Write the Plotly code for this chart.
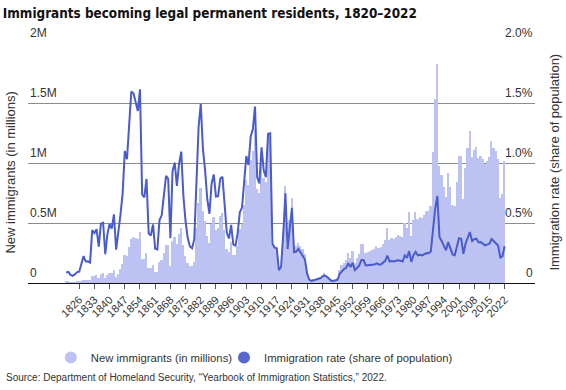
import plotly.graph_objects as go

years = list(range(1820, 2023))

# New immigrants (thousands)
immigrants_k = [
    8.4, 9.1, 6.9, 6.4, 7.9, 10.2, 10.8, 18.9, 27.4, 22.5,
    23.3, 22.6, 60.5, 58.6, 65.4, 45.4, 76.2, 79.3, 38.9, 68.1,
    84.1, 80.3, 104.6, 52.5, 78.6, 114.4, 154.4, 235.0, 226.5, 297.0,
    370.0, 379.5, 371.6, 368.6, 427.8, 200.9, 200.4, 251.3, 123.1, 121.3,
    153.6, 91.9, 92.0, 176.3, 193.4, 248.1, 318.6, 315.7, 138.8, 352.8,
    387.2, 321.4, 404.8, 459.8, 313.3, 227.5, 170.0, 141.9, 138.5, 177.8,
    457.3, 669.4, 789.0, 603.3, 518.6, 395.3, 334.2, 490.1, 546.9, 444.4,
    455.3, 560.3, 579.7, 439.7, 285.6, 258.5, 343.3, 230.8, 229.3, 311.7,
    448.6, 487.9, 648.7, 857.0, 812.9, 1026.5, 1100.7, 1285.3, 782.9, 751.8,
    1041.6, 878.6, 838.2, 1197.9, 1218.5, 326.7, 298.8, 295.4, 110.6, 141.1,
    430.0, 805.2, 309.6, 522.9, 706.9, 294.3, 304.5, 335.2, 307.3, 279.7,
    241.7, 97.1, 35.6, 23.1, 29.5, 35.0, 36.3, 50.2, 67.9, 83.0,
    70.8, 51.8, 28.8, 23.7, 28.6, 38.1, 108.7, 147.3, 170.6, 188.3,
    249.2, 205.7, 265.5, 170.4, 208.2, 237.8, 321.6, 326.9, 253.3, 260.7,
    265.4, 271.3, 283.8, 306.3, 292.2, 296.7, 323.0, 362.0, 454.4, 358.6,
    373.3, 370.5, 384.7, 398.5, 393.9, 385.4, 499.1, 458.8, 589.8, 394.2,
    524.3, 595.0, 533.6, 550.1, 541.8, 568.1, 600.0, 599.9, 641.3, 1090.2,
    1535.9, 1826.6, 973.4, 903.9, 804.0, 720.2, 915.6, 797.8, 653.2, 644.8,
    841.0, 1058.9, 1059.4, 703.5, 957.9, 1122.3, 1266.1, 1052.4, 1107.1, 1130.8,
    1042.6, 1062.0, 1031.6, 990.6, 1016.5, 1051.0, 1183.5, 1127.2, 1096.6, 1031.8,
    707.4, 740.0, 1018.3,
]

# Immigration rate (% of population)
rate_pct = [
    0.087, 0.092, 0.067, 0.060, 0.072, 0.091, 0.094, 0.159, 0.224, 0.179,
    0.181, 0.170, 0.441, 0.415, 0.449, 0.303, 0.495, 0.502, 0.240, 0.409,
    0.492, 0.454, 0.572, 0.278, 0.403, 0.568, 0.745, 1.101, 1.031, 1.315,
    1.595, 1.581, 1.498, 1.434, 1.614, 0.736, 0.713, 0.867, 0.413, 0.396,
    0.489, 0.285, 0.280, 0.525, 0.564, 0.709, 0.892, 0.867, 0.374, 0.933,
    1.003, 0.810, 0.990, 1.095, 0.725, 0.512, 0.374, 0.304, 0.289, 0.363,
    0.911, 1.300, 1.494, 1.117, 0.938, 0.698, 0.577, 0.829, 0.905, 0.720,
    0.723, 0.871, 0.884, 0.656, 0.418, 0.371, 0.484, 0.320, 0.312, 0.416,
    0.589, 0.627, 0.817, 1.058, 0.984, 1.219, 1.283, 1.471, 0.880, 0.830,
    1.130, 0.939, 0.882, 1.243, 1.247, 0.330, 0.297, 0.290, 0.107, 0.135,
    0.406, 0.748, 0.283, 0.470, 0.626, 0.257, 0.262, 0.284, 0.257, 0.230,
    0.196, 0.078, 0.028, 0.018, 0.023, 0.027, 0.028, 0.039, 0.052, 0.063,
    0.054, 0.039, 0.021, 0.017, 0.020, 0.027, 0.076, 0.101, 0.116, 0.126,
    0.165, 0.133, 0.169, 0.107, 0.128, 0.144, 0.191, 0.191, 0.146, 0.148,
    0.148, 0.149, 0.154, 0.164, 0.155, 0.155, 0.167, 0.185, 0.229, 0.179,
    0.184, 0.180, 0.185, 0.190, 0.185, 0.179, 0.230, 0.209, 0.266, 0.176,
    0.231, 0.260, 0.231, 0.236, 0.230, 0.239, 0.250, 0.248, 0.263, 0.442,
    0.618, 0.725, 0.381, 0.350, 0.307, 0.272, 0.341, 0.294, 0.238, 0.232,
    0.299, 0.373, 0.369, 0.243, 0.328, 0.380, 0.425, 0.350, 0.365, 0.370,
    0.338, 0.341, 0.329, 0.314, 0.320, 0.328, 0.367, 0.347, 0.335, 0.313,
    0.213, 0.223, 0.306,
]

x_tick_years = list(range(1826, 2023, 7))
left_tick_vals = [0, 0.5, 1.0, 1.5, 2.0]
left_tick_text = ["0", "0.5M", "1M", "1.5M", "2M"]
right_tick_vals = [0, 0.5, 1.0, 1.5, 2.0]
right_tick_text = ["0", "0.5%", "1.0%", "1.5%", "2.0%"]

BAR_COLOR = "#bcc3f3"
LINE_COLOR = "#4a5bcc"
FONT = "Liberation Sans, Arial, sans-serif"
TXT = "#333333"

immigrants_m = [v / 1000 for v in immigrants_k]

fig = go.Figure()
fig.add_trace(go.Bar(x=years, y=immigrants_m, width=0.78, marker=dict(color=BAR_COLOR, line=dict(width=0)),
                     showlegend=False, yaxis="y"))
fig.add_trace(go.Scatter(x=years, y=rate_pct, mode="lines", line=dict(color=LINE_COLOR, width=2),
                         showlegend=False, yaxis="y2"))
# legend entries (circle symbols)
fig.add_trace(go.Scatter(x=[None], y=[None], mode="markers", name="New immigrants (in millions)",
                         marker=dict(color=BAR_COLOR, size=14, symbol="circle"), legend="legend"))
fig.add_trace(go.Scatter(x=[None], y=[None], mode="markers", name="Immigration rate (share of population)",
                         marker=dict(color="#5866cf", size=14, symbol="circle"), legend="legend2"))

annotations = []
for v, t in zip(left_tick_vals, left_tick_text):
    annotations.append(dict(x=0, xref="paper", y=v, yref="y", text=t, showarrow=False,
                            xanchor="left", yanchor="bottom", yshift=1,
                            font=dict(family=FONT, size=12, color=TXT)))
for v, t in zip(right_tick_vals, right_tick_text):
    annotations.append(dict(x=1, xref="paper", y=v, yref="y2", text=t, showarrow=False,
                            xanchor="right", yanchor="bottom", yshift=1,
                            font=dict(family=FONT, size=12, color=TXT)))
annotations.append(dict(x=-0.0335, xref="paper", y=0.46, yref="paper", text="New immigrants (in millions)",
                        textangle=-90, showarrow=False, xanchor="center", yanchor="middle",
                        font=dict(family=FONT, size=13, color=TXT)))
annotations.append(dict(x=1.039, xref="paper", y=0.505, yref="paper",
                        text="Immigration rate (share of population)",
                        textangle=-90, showarrow=False, xanchor="center", yanchor="middle",
                        font=dict(family=FONT, size=13, color=TXT)))
annotations.append(dict(x=-0.047, xref="paper", y=-0.392, yref="paper",
                        text="Source: Department of Homeland Security, “Yearbook of Immigration Statistics,” 2022.",
                        showarrow=False, xanchor="left", yanchor="middle",
                        font=dict(family=FONT, size=10, color=TXT)))

legend_common = dict(orientation="h", xanchor="left", y=-0.31, yanchor="middle",
                     font=dict(family=FONT, size=11.3, color=TXT), itemsizing="constant",
                     bgcolor="rgba(0,0,0,0)")

fig.update_layout(
    width=566, height=390,
    margin=dict(l=28, r=31, t=43, b=107),
    paper_bgcolor="white", plot_bgcolor="white",
    title=dict(text="<b>Immigrants becoming legal permanent residents, 1820–2022</b>",
               x=0.005, xanchor="left", y=0.965, yanchor="middle",
               font=dict(family="DejaVu Sans Condensed, Liberation Sans Narrow, sans-serif",
                         size=13.4, color="#111111")),
    bargap=0,
    xaxis=dict(range=[1802.4, 2036.0], tickvals=x_tick_years, ticktext=[str(y) for y in x_tick_years],
               tickangle=-45, ticks="outside", ticklen=5, tickcolor="#555555",
               showline=True, linecolor="#111111", linewidth=1, showgrid=False, zeroline=False,
               tickfont=dict(family=FONT, size=11, color=TXT)),
    yaxis=dict(range=[0, 2.0], tickvals=left_tick_vals, showticklabels=False, showgrid=True,
               gridcolor="#8c8c8c", gridwidth=1, zeroline=False),
    yaxis2=dict(range=[0, 2.0], overlaying="y", side="right", showticklabels=False, showgrid=False,
                zeroline=False),
    legend=dict(x=0.045, **legend_common),
    legend2=dict(x=0.3866, **legend_common),
    annotations=annotations,
)

fig.write_html("out.html", config={"displayModeBar": False},
               post_script="document.body.style.margin='0px';document.body.style.overflow='hidden';")
